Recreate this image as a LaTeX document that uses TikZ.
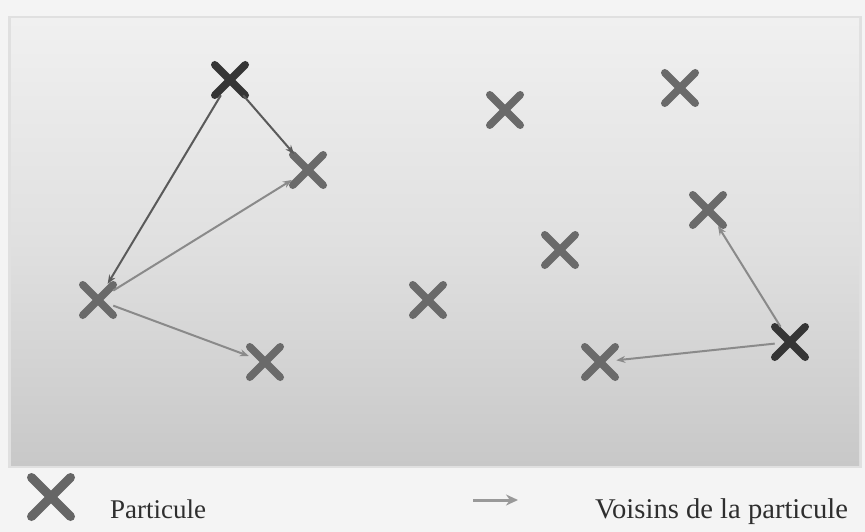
\documentclass[tikz,border=0pt]{standalone}
\usepackage{fontspec}
\setmainfont{Liberation Serif}
\usetikzlibrary{shapes.misc,arrows.meta}
\definecolor{pagebg}{HTML}{F4F4F4}
\definecolor{paneltop}{HTML}{F0F0F0}
\definecolor{panelmid}{HTML}{E0E0E0}
\definecolor{panelbot}{HTML}{C8C8C8}
\definecolor{darkx}{HTML}{353535}
\definecolor{midx}{HTML}{6A6A6A}
\definecolor{linkdark}{HTML}{5A5A5A}
\definecolor{linklight}{HTML}{8A8A8A}
\definecolor{legendtext}{HTML}{2E2E2E}
\tikzset{
  particle/.style={cross out, draw=midx, line width=7.5pt, line cap=round,
    minimum size=23pt, inner sep=0pt},
  source/.style={particle, draw=darkx},
  link/.style={line width=2pt, draw=linkdark, shorten >=1pt,
    -{Stealth[length=9pt,width=7pt]}},
  lightlink/.style={link, draw=linklight},
  legendlabel/.style={text=legendtext, anchor=base west, inner sep=0pt}
}
\begin{document}
\begin{tikzpicture}[x=1pt,y=-1pt]
  \useasboundingbox (0,0) rectangle (865,532);
  \fill[pagebg] (0,0) rectangle (865,532);
  % framed panel with soft shadow and vertical gradient
  \fill[black!12] (8,16) rectangle (862,468);
  \shade[top color=paneltop, bottom color=panelbot, middle color=panelmid]
    (11,19) rectangle (859,465);
  % particles
  \node[source]   (A) at (230,80)  {};
  \node[particle] (B) at (308,170) {};
  \node[particle] (C) at (98,300)  {};
  \node[particle] (D) at (265,362) {};
  \node[particle] (E) at (505,110) {};
  \node[particle] (F) at (680,88)  {};
  \node[particle] (G) at (708,210) {};
  \node[particle] (H) at (560,250) {};
  \node[particle] (I) at (428,300) {};
  \node[particle] (J) at (600,362) {};
  \node[source]   (K) at (790,342) {};
  % neighbour links
  \draw[link] (A) -- (C);
  \draw[link] (A) -- (B);
  \draw[lightlink] (C) -- (B);
  \draw[lightlink] (C) -- (D);
  \draw[lightlink] (K) -- (G);
  \draw[lightlink] (K) -- (J);
  % legend
  \node[particle, draw=black!60, minimum size=30pt, line width=9pt] (lx) at (51,497) {};
  \node[legendlabel, font=\fontsize{27}{30}\selectfont] (lp) at (110,518) {Particule};
  \coordinate (la1) at (473,500);
  \coordinate (la2) at (518,500);
  \draw[line width=3pt, draw=black!40, -{Stealth[length=12pt,width=11pt]}] (la1) -- (la2);
  \node[legendlabel, font=\fontsize{28.6}{31}\selectfont] (lv) at (595,518) {Voisins de la particule};
\end{tikzpicture}
\end{document}
